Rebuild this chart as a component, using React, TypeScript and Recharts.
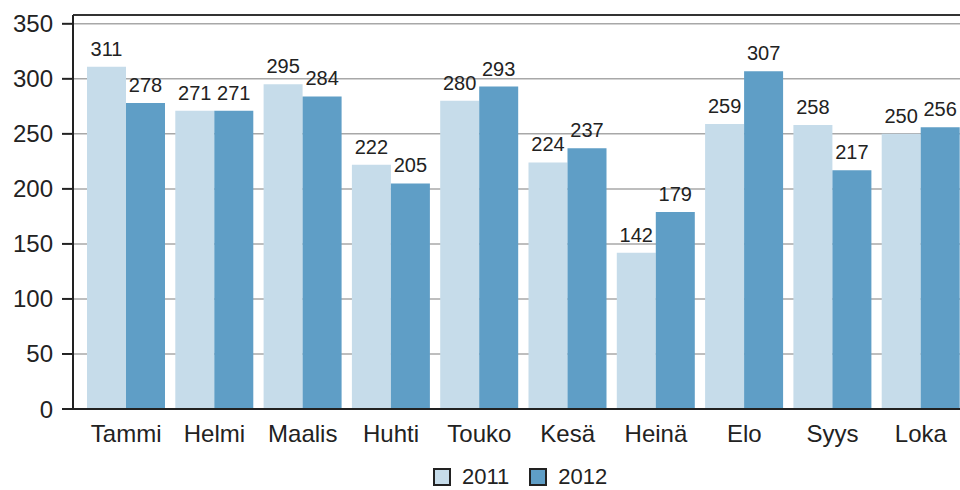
import React from 'react';
import { BarChart, Bar, XAxis, YAxis, CartesianGrid, LabelList, Legend, ReferenceLine } from 'recharts';

const months = ['Tammi', 'Helmi', 'Maalis', 'Huhti', 'Touko', 'Kesä', 'Heinä', 'Elo', 'Syys', 'Loka'];
const values2011 = [311, 271, 295, 222, 280, 224, 142, 259, 258, 250];
const values2012 = [278, 271, 284, 205, 293, 237, 179, 307, 217, 256];
const yTicks = [0, 50, 100, 150, 200, 250, 300, 350];
const seriesNames = ['2011', '2012'];

const data = months.map((m, i) => ({ month: m, a: values2011[i], b: values2012[i] }));

const FONT = "Arial, 'Liberation Sans', sans-serif";
const C2011 = '#c6dcea';
const C2012 = '#5f9ec6';

const LegendContent = () => (
  <div style={{ display: 'flex', alignItems: 'center', fontFamily: FONT, fontSize: 22, color: '#222', lineHeight: '24px' }}>
    {[C2011, C2012].map((c, i) => (
      <div key={i} style={{ display: 'flex', alignItems: 'center', marginRight: i === 0 ? 20 : 0 }}>
        <span style={{ display: 'inline-block', width: 14, height: 14, background: c, border: '2px solid #222', marginRight: 11 }} />
        <span>{seriesNames[i]}</span>
      </div>
    ))}
  </div>
);

export default function App() {
  return (
    <div style={{ position: 'absolute', left: 0, top: 0, width: 960, height: 490, overflow: 'hidden', background: '#fff' }}>
      <BarChart
        width={965}
        height={490}
        data={data}
        margin={{ top: 15, right: 0, left: 0, bottom: 0 }}
        barCategoryGap={5}
        barGap={0}
      >
        <CartesianGrid horizontal vertical={false} stroke="#a8a8a8" strokeWidth={1.5} />
        <XAxis
          dataKey="month"
          height={81}
          padding={{ left: 9, right: 0 }}
          tickSize={0}
          tickMargin={16}
          axisLine={{ stroke: '#222', strokeWidth: 2 }}
          tick={{ fill: '#222', fontSize: 24, fontFamily: FONT }}
          interval={0}
        />
        <YAxis
          width={73}
          domain={[0, 358]}
          ticks={yTicks}
          allowDataOverflow
          tickSize={11}
          tickMargin={9}
          axisLine={{ stroke: '#222', strokeWidth: 2 }}
          tickLine={{ stroke: '#222', strokeWidth: 2 }}
          tick={{ fill: '#222', fontSize: 24, fontFamily: FONT }}
        />
        <ReferenceLine y={358} stroke="#333" strokeWidth={2} />
        <Legend
          layout="horizontal"
          verticalAlign="middle"
          align="center"
          content={<LegendContent />}
          wrapperStyle={{ top: 465, left: 433, width: 200, height: 24 }}
        />
        <Bar dataKey="a" name="2011" fill={C2011} isAnimationActive={false}>
          <LabelList dataKey="a" position="top" offset={11} style={{ fill: '#222', fontSize: 20, fontFamily: FONT }} />
        </Bar>
        <Bar dataKey="b" name="2012" fill={C2012} isAnimationActive={false}>
          <LabelList dataKey="b" position="top" offset={11} style={{ fill: '#222', fontSize: 20, fontFamily: FONT }} />
        </Bar>
      </BarChart>
    </div>
  );
}
